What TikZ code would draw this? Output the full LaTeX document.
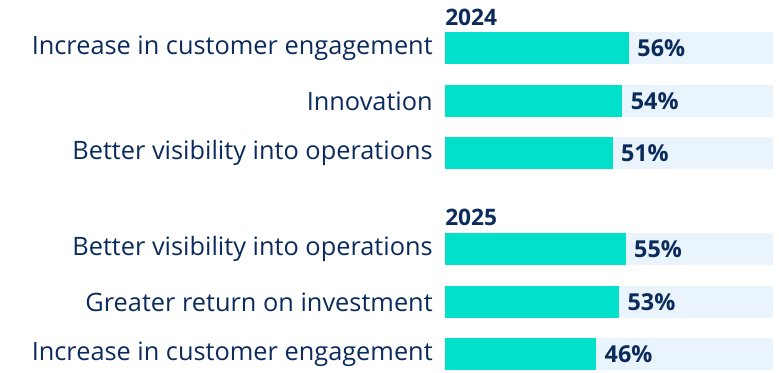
\documentclass[tikz,border=0pt]{standalone}
\usepackage{fontspec}
\setmainfont{Open Sans}
\usetikzlibrary{positioning}
\definecolor{navy}{HTML}{0B2B5C}
\definecolor{teal}{HTML}{00E0CB}
\definecolor{track}{HTML}{EAF4FD}

\begin{document}
\begin{tikzpicture}[x=0.75pt, y=-0.75pt,
    trackbar/.style={fill=track, draw=none, minimum width=246pt, minimum height=24pt, inner sep=0pt, anchor=north west},
    valbar/.style={fill=teal, draw=none, minimum height=24pt, inner sep=0pt, anchor=north west},
    item/.style={text=navy, font=\fontsize{19}{22}\selectfont, inner sep=0pt, anchor=east},
    pct/.style={text=navy, font=\fontsize{17.5}{20}\selectfont\bfseries, inner sep=0pt},
    year/.style={text=navy, font=\fontsize{17}{20}\selectfont\bfseries, inner sep=0pt, anchor=south west},
    ]
    \useasboundingbox (0,0) rectangle (779,372);

    % year headings
    \node[year] (y24) at (445,26) {2024};
    \node[year] (y25) at (445,226) {2025};

    % bars: top edge / label / value
    \foreach \n/\top/\lbl/\val in {
        a/32/Increase in customer engagement/56,
        b/85/Innovation/54,
        c/137/Better visibility into operations/51,
        d/233/Better visibility into operations/55,
        e/286/Greater return on investment/53,
        f/338/Increase in customer engagement/46} {
        \node[trackbar] (t\n) at (445,\top) {};
        \node[valbar, minimum width=3.28*\val*0.75pt] (v\n) at (445,\top) {};
        \node[pct, right=6pt of v\n] (p\n) {\val\%};
        \node[item, left=9pt of t\n] (l\n) {\lbl};
    }
\end{tikzpicture}
\end{document}
